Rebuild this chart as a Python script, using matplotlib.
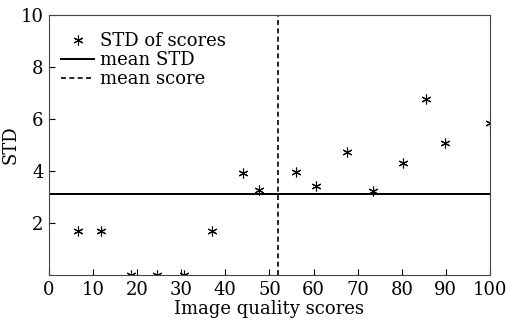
import matplotlib
matplotlib.use('Agg')
import matplotlib.pyplot as plt
import numpy as np

# image quality score and std of scores for each image
scores = [6.6, 11.8, 18.5, 24.4, 30.5, 37.0, 44.1, 47.6, 55.9, 60.6,
          67.6, 73.5, 80.3, 85.5, 89.8, 100.0]
stds = [1.69, 1.69, 0.0, 0.0, 0.0, 1.69, 3.91, 3.27, 3.96, 3.42,
        4.74, 3.23, 4.31, 6.77, 5.06, 5.85]
mean_std = 3.13
mean_score = 52.0

xticks = [0, 10, 20, 30, 40, 50, 60, 70, 80, 90, 100]
yticks = [2, 4, 6, 8, 10]

plt.rcParams['font.family'] = ['DejaVu Serif']
plt.rcParams['font.size'] = 13

fig = plt.figure(figsize=(5.08, 3.21), dpi=100)
ax = fig.add_axes([0.0965, 0.1433, 0.868, 0.81])

ax.plot(scores, stds, linestyle='none', marker=(6, 2, 0), color='black',
        markersize=7, markeredgewidth=0.8, label='STD of scores')
ax.axhline(mean_std, color='black', lw=1.4, label='mean STD')
ax.axvline(mean_score, color='black', lw=1.2, linestyle=(0, (3, 2)),
           label='mean score')

ax.set_xlim(0, 100)
ax.set_ylim(0, 10)
ax.set_xticks(xticks)
ax.set_yticks(yticks)
ax.tick_params(direction='in', length=4, width=0.8, pad=4)
for s in ax.spines.values():
    s.set_linewidth(0.8)
    s.set_color('#444444')

ax.set_xlabel('Image quality scores', labelpad=1)
ax.set_ylabel('STD', labelpad=1)

ax.legend(loc='upper left', bbox_to_anchor=(0.02, 0.948), frameon=False,
          handlelength=1.8, handletextpad=0.35, labelspacing=0.05,
          borderaxespad=0.0, borderpad=0.2)

fig.savefig('out.png', dpi=100)
